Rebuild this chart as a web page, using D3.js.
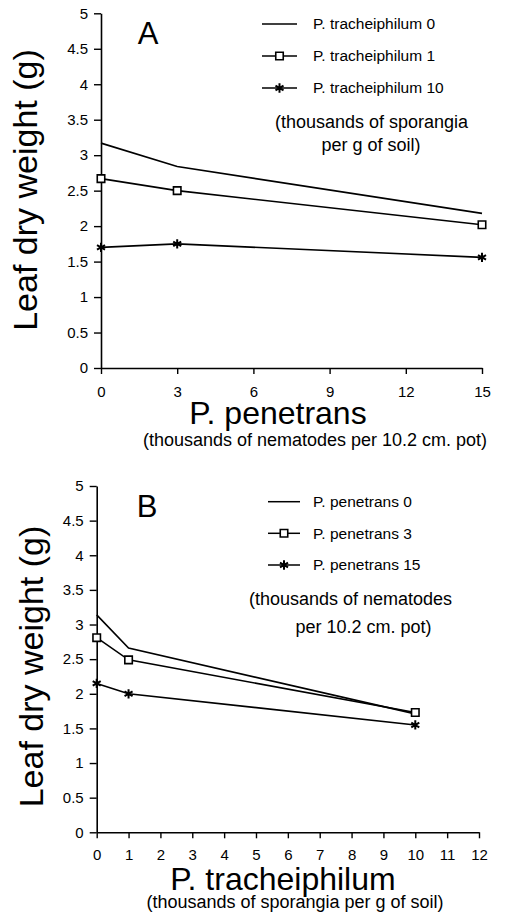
<!DOCTYPE html>
<html>
<head>
<meta charset="utf-8">
<script src="https://cdn.jsdelivr.net/npm/d3@7"></script>
<style>
  html, body { margin: 0; padding: 0; background: #fff; }
  svg { display: block; }
  text { font-family: "Liberation Sans", Arial, Helvetica, sans-serif; fill: #000; }
</style>
</head>
<body>
<svg id="chart" width="506" height="913"></svg>
<script>
// ---------------- DATA ----------------
// Panel A: x = P. penetrans (thousands of nematodes per 10.2 cm pot)
const xA = [0, 3, 15];
const seriesNamesA = ["P. tracheiphilum 0", "P. tracheiphilum 1", "P. tracheiphilum 10"];
const tracheiphilum0 = [3.17, 2.84, 2.18];
const tracheiphilum1 = [2.67, 2.50, 2.02];
const tracheiphilum10 = [1.70, 1.75, 1.56];
const xTicksA = [0, 3, 6, 9, 12, 15];

// Panel B: x = P. tracheiphilum (thousands of sporangia per g of soil)
const xB = [0, 1, 10];
const seriesNamesB = ["P. penetrans 0", "P. penetrans 3", "P. penetrans 15"];
const penetrans0 = [3.14, 2.66, 1.71];
const penetrans3 = [2.81, 2.49, 1.73];
const penetrans15 = [2.15, 2.00, 1.55];
const xTicksB = [0, 1, 2, 3, 4, 5, 6, 7, 8, 9, 10, 11, 12];

const yTicks = [0, 0.5, 1, 1.5, 2, 2.5, 3, 3.5, 4, 4.5, 5];
const markerTypes = ["none", "square", "star"];

// ---------------- DRAW ----------------
const svg = d3.select("#chart");

function drawPanel(cfg) {
  const g = svg.append("g");
  const x = d3.scaleLinear().domain(cfg.xDomain).range(cfg.xRange);
  const y = d3.scaleLinear().domain([0, 5]).range(cfg.yRange);

  // y axis
  const ya = g.append("g")
    .attr("transform", `translate(${cfg.xRange[0]},0)`)
    .call(d3.axisLeft(y).tickValues(yTicks).tickSize(7).tickSizeOuter(0).tickPadding(6)
      .tickFormat(d => String(d)));
  // x axis
  const xa = g.append("g")
    .attr("transform", `translate(0,${cfg.yRange[0]})`)
    .call(d3.axisBottom(x).tickValues(cfg.xTicks).tickSize(6).tickSizeOuter(0).tickPadding(cfg.xPad)
      .tickFormat(d => String(d)));
  [ya, xa].forEach(a => {
    a.select(".domain").attr("stroke", "#000").attr("stroke-width", 1.6);
    a.selectAll(".tick line").attr("stroke", "#000").attr("stroke-width", 1.4);
    a.selectAll(".tick text").attr("font-size", 15)
      .style("font-family", '"Liberation Sans", Arial, Helvetica, sans-serif').attr("fill", "#000");
  });

  const line = d3.line().x((d, i) => x(cfg.xs[i])).y(d => y(d));

  cfg.series.forEach((vals, si) => {
    g.append("path").datum(vals)
      .attr("d", line).attr("fill", "none")
      .attr("stroke", "#000").attr("stroke-width", 1.6);
    drawMarkers(g, markerTypes[si], vals.map((v, i) => [x(cfg.xs[i]), y(v)]));
  });

  // legend
  cfg.names.forEach((name, i) => {
    const ly = cfg.legendY[i];
    g.append("line").attr("x1", cfg.legendX[0]).attr("x2", cfg.legendX[1])
      .attr("y1", ly).attr("y2", ly).attr("stroke", "#000").attr("stroke-width", 1.5);
    drawMarkers(g, markerTypes[i], [[(cfg.legendX[0] + cfg.legendX[1]) / 2, ly]]);
    g.append("text").attr("x", cfg.legendTextX).attr("y", ly).attr("dy", "0.35em")
      .attr("font-size", 15.5).text(name);
  });
  cfg.note.forEach((n, i) => {
    g.append("text").attr("x", n.x).attr("y", n.y).attr("dy", "0.35em")
      .attr("text-anchor", "middle").attr("font-size", 18).text(n.t);
  });

  // panel letter
  g.append("text").attr("x", cfg.letter.x).attr("y", cfg.letter.y)
    .attr("text-anchor", "middle").attr("font-size", 31).text(cfg.letter.t);

  // y axis title
  g.append("text").attr("transform", `translate(${cfg.yTitle.x},${cfg.yTitle.y}) rotate(-90)`)
    .attr("text-anchor", "middle").attr("font-size", 34).text("Leaf dry weight (g)");

  // x axis title
  g.append("text").attr("x", cfg.xTitle.x).attr("y", cfg.xTitle.y)
    .attr("text-anchor", "middle").attr("font-size", 32).text(cfg.xTitle.t);
  g.append("text").attr("x", cfg.xSub.x).attr("y", cfg.xSub.y)
    .attr("text-anchor", "middle").attr("font-size", 18).text(cfg.xSub.t);
}

function drawMarkers(g, type, pts) {
  if (type === "square") {
    pts.forEach(p => {
      g.append("path").attr("d", d3.symbol().type(d3.symbolSquare).size(56)())
        .attr("transform", `translate(${p[0]},${p[1]})`)
        .attr("fill", "#fff").attr("stroke", "#000").attr("stroke-width", 1.6);
    });
  } else if (type === "star") {
    pts.forEach(p => {
      g.append("path").attr("d", d3.symbol().type(d3.symbolAsterisk).size(60)())
        .attr("transform", `translate(${p[0]},${p[1]})`)
        .attr("fill", "none").attr("stroke", "#000").attr("stroke-width", 2);
    });
  }
}

drawPanel({
  xDomain: [0, 15], xRange: [101, 482], yRange: [368, 13.3], xTicks: xTicksA, xPad: 12,
  xs: xA, series: [tracheiphilum0, tracheiphilum1, tracheiphilum10], names: seriesNamesA,
  legendX: [262, 297], legendY: [24, 56, 88], legendTextX: 313,
  note: [{ t: "(thousands of sporangia", x: 371.5, y: 121.7 }, { t: "per g of soil)", x: 371, y: 145 }],
  letter: { t: "A", x: 148, y: 44.3 },
  yTitle: { x: 37, y: 190 },
  xTitle: { t: "P. penetrans", x: 278, y: 424 },
  xSub: { t: "(thousands of nematodes per 10.2 cm. pot)", x: 315, y: 446 }
});

drawPanel({
  xDomain: [0, 12], xRange: [96.7, 479], yRange: [832.3, 486], xTicks: xTicksB, xPad: 11,
  xs: xB, series: [penetrans0, penetrans3, penetrans15], names: seriesNamesB,
  legendX: [268, 300], legendY: [501.7, 533.3, 565], legendTextX: 313,
  note: [{ t: "(thousands of nematodes", x: 350.5, y: 598.3 }, { t: "per 10.2 cm. pot)", x: 363.5, y: 626.7 }],
  letter: { t: "B", x: 147, y: 516.7 },
  yTitle: { x: 43, y: 666.5 },
  xTitle: { t: "P. tracheiphilum", x: 283, y: 890 },
  xSub: { t: "(thousands of sporangia per g of soil)", x: 295, y: 908 }
});
</script>
</body>
</html>
